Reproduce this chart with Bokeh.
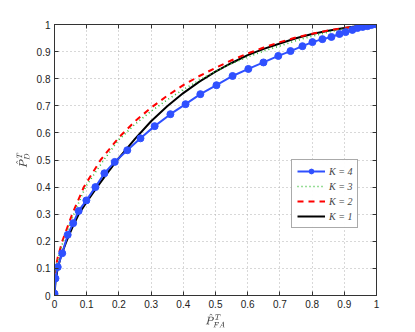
from bokeh.plotting import figure
from bokeh.models import Range1d, LinearAxis, FixedTicker, Legend, LegendItem, TeX
from bokeh.embed import file_html
from bokeh.resources import INLINE

# K = 4 (blue, with markers)
k4_x = [0.0, 0.0, 0.003, 0.010, 0.024, 0.041, 0.058, 0.075, 0.099, 0.127, 0.155, 0.187,
        0.226, 0.267, 0.311, 0.360, 0.407, 0.453, 0.503, 0.553, 0.602, 0.649, 0.695,
        0.733, 0.770, 0.801, 0.832, 0.860, 0.885, 0.904, 0.925, 0.941, 0.957, 0.972,
        0.984, 1.0]
k4_y = [0.0, 0.007, 0.063, 0.105, 0.156, 0.224, 0.267, 0.312, 0.351, 0.400, 0.451, 0.493,
        0.536, 0.580, 0.625, 0.669, 0.706, 0.743, 0.776, 0.810, 0.836, 0.860, 0.884,
        0.902, 0.920, 0.935, 0.946, 0.954, 0.965, 0.972, 0.980, 0.987, 0.991, 0.994,
        0.998, 1.0]

# K = 3 (green dotted)
k3_x = [0.0, 0.003, 0.012, 0.027, 0.060, 0.096, 0.153, 0.2, 0.25, 0.3, 0.35, 0.4, 0.45,
        0.5, 0.55, 0.6, 0.65, 0.7, 0.75, 0.8, 0.85, 0.9, 0.95, 1.0]
k3_y = [0.0, 0.10, 0.14, 0.20, 0.30, 0.40, 0.50, 0.575, 0.632, 0.680, 0.722, 0.760, 0.795,
        0.827, 0.856, 0.880, 0.902, 0.921, 0.940, 0.957, 0.972, 0.984, 0.994, 1.0]

# K = 2 (red dashed)
k2_x = [0.0, 0.003, 0.010, 0.024, 0.055, 0.091, 0.143, 0.2, 0.25, 0.3, 0.35, 0.4, 0.45,
        0.5, 0.55, 0.6, 0.65, 0.7, 0.75, 0.8, 0.85, 0.9, 0.95, 1.0]
k2_y = [0.0, 0.10, 0.14, 0.20, 0.30, 0.40, 0.50, 0.583, 0.643, 0.693, 0.737, 0.776, 0.810,
        0.840, 0.868, 0.893, 0.915, 0.935, 0.952, 0.966, 0.978, 0.987, 0.995, 1.0]

# K = 1 (black solid)
k1_x = [0.0, 0.003, 0.010, 0.020, 0.037, 0.055, 0.075, 0.1, 0.132, 0.16, 0.195, 0.25, 0.3,
        0.35, 0.4, 0.45, 0.5, 0.55, 0.6, 0.65, 0.7, 0.75, 0.8, 0.85, 0.9, 0.95, 1.0]
k1_y = [0.0, 0.05, 0.10, 0.145, 0.20, 0.25, 0.30, 0.345, 0.40, 0.445, 0.50, 0.578, 0.643,
        0.698, 0.747, 0.789, 0.826, 0.858, 0.887, 0.910, 0.930, 0.949, 0.965, 0.977,
        0.987, 0.995, 1.0]

ticks = [0, 0.1, 0.2, 0.3, 0.4, 0.5, 0.6, 0.7, 0.8, 0.9, 1]
tick_labels = ["0", "0.1", "0.2", "0.3", "0.4", "0.5", "0.6", "0.7", "0.8", "0.9", "1"]

p = figure(frame_width=322, frame_height=271, output_backend="svg", toolbar_location=None,
           x_range=Range1d(0, 1), y_range=Range1d(0, 1),
           min_border_left=54, min_border_right=31, min_border_top=24, min_border_bottom=29,
           background_fill_color="white", border_fill_color="white")
p.outline_line_color = "#333333"
p.outline_line_width = 1

axis_color = "#333333"
font = "Liberation Sans"
overrides = {t: l for t, l in zip(ticks, tick_labels)}
for ax in [p.xaxis[0], p.yaxis[0]]:
    ax.ticker = FixedTicker(ticks=ticks)
    ax.major_label_overrides = overrides
    ax.major_tick_in = 4
    ax.major_tick_out = 0
    ax.minor_tick_line_color = None
    ax.axis_line_color = axis_color
    ax.major_tick_line_color = axis_color
    ax.major_label_text_font = font
    ax.major_label_text_font_size = "10px"
    ax.major_label_text_color = "#222222"
    ax.major_label_standoff = 4

p.xaxis.axis_label = TeX(r"\hat{P}^T_{FA}")
p.yaxis.axis_label = TeX(r"\hat{P}^T_{D}")
p.xaxis.axis_label_text_font_size = "9px"
p.yaxis.axis_label_text_font_size = "9px"
p.xaxis.axis_label_standoff = 2
p.yaxis.axis_label_standoff = 4
p.xaxis.axis_label_text_color = "#444444"
p.yaxis.axis_label_text_color = "#444444"

for loc in ["right", "above"]:
    ax = LinearAxis(ticker=FixedTicker(ticks=ticks),
                    major_label_overrides={t: "" for t in ticks},
                    major_tick_in=4, major_tick_out=0, minor_tick_line_color=None,
                    axis_line_color=axis_color, major_tick_line_color=axis_color,
                    major_label_text_font_size="1px")
    p.add_layout(ax, loc)

p.xgrid.ticker = FixedTicker(ticks=ticks)
p.ygrid.ticker = FixedTicker(ticks=ticks)
p.grid.grid_line_color = "#b0b0b0"
p.grid.grid_line_dash = "1 3"
p.grid.grid_line_width = 1

r1 = p.line(k1_x, k1_y, line_color="black", line_width=2)
r2 = p.line(k2_x, k2_y, line_color="#ff0000", line_width=2, line_dash="6 5")
r3 = p.line(k3_x, k3_y, line_color="#33bb33", line_width=1.6, line_dash="1 3")
r4 = p.line(k4_x, k4_y, line_color="#2f50ff", line_width=2)
r4m = p.scatter(k4_x, k4_y, marker="circle", size=7, fill_color="#2f50ff",
                line_color="#2f50ff")

legend = Legend(items=[
    LegendItem(label="K = 4", renderers=[r4, r4m]),
    LegendItem(label="K = 3", renderers=[r3]),
    LegendItem(label="K = 2", renderers=[r2]),
    LegendItem(label="K = 1", renderers=[r1]),
], location=(237, 67))
legend.label_text_font = "Liberation Serif"
legend.label_text_font_size = "10px"
legend.label_text_font_style = "italic"
legend.border_line_color = "#555555"
legend.border_line_width = 1.5
legend.glyph_width = 28
legend.glyph_height = 12
legend.label_standoff = 4
legend.spacing = 3
legend.padding = 5
legend.margin = 0
legend.label_height = 12
p.add_layout(legend, "center")

open("out.html", "w").write(file_html(p, INLINE))
